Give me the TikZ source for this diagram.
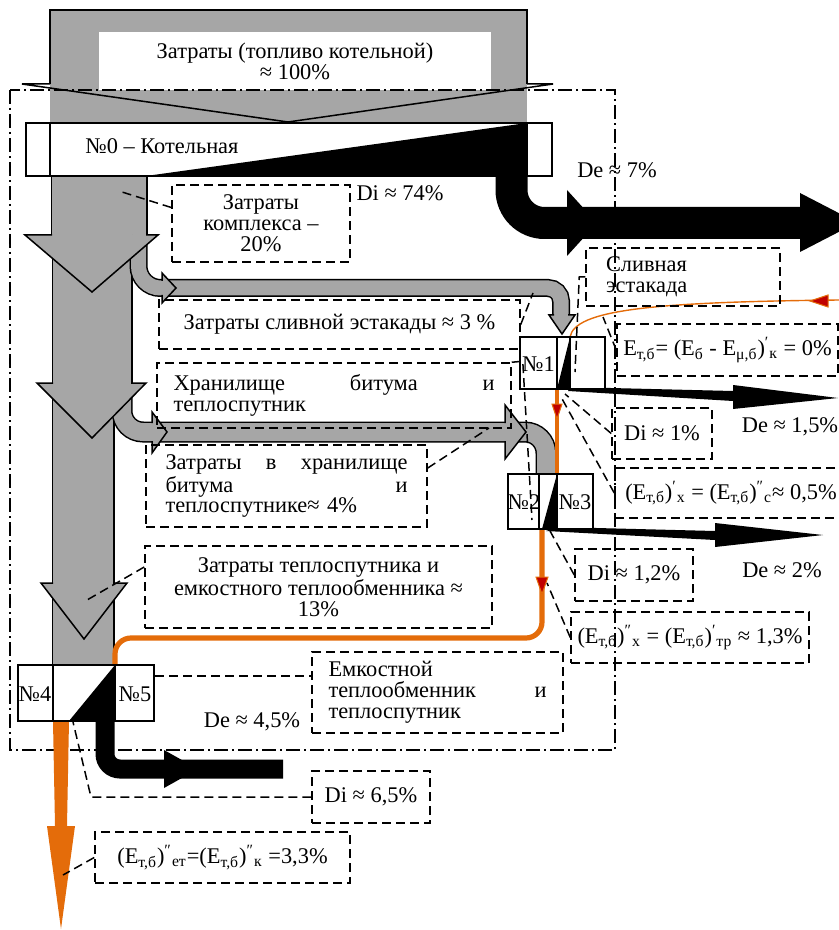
\documentclass[tikz,border=0pt]{standalone}
\usepackage{fontspec}
\setmainfont{Liberation Serif}
\definecolor{flowgray}{RGB}{166,166,166}
\definecolor{floworange}{RGB}{228,108,10}
\definecolor{flowred}{RGB}{192,0,0}
\begin{document}
\begin{tikzpicture}[x=0.5pt, y=-0.5pt,
        every node/.style={font=\fontsize{11.2}{10.4}\selectfont, inner sep=0pt},
        pipe/.style={draw=black, double=flowgray, line width=0.75pt},
        unit/.style={draw, line width=1.4pt, fill=white},
        note/.style={draw, dash pattern=on 4.5pt off 2.5pt, line width=0.75pt, align=center},
        leader/.style={dash pattern=on 4.5pt off 2.5pt, line width=0.75pt},
        frame/.style={dash pattern=on 7pt off 2pt on 1pt off 2pt, line width=0.75pt},
        hot/.style={draw=floworange},
        redhead/.style={fill=flowred, draw=floworange, line width=0.5pt}]
    \useasboundingbox (0,0) rectangle (839,930);
    % fuel input
    \fill[flowgray] (50,10) rectangle (527,123);
    \draw[line width=0.75pt] (50,84) -- (50,10) -- (527,10) -- (527,84);
    \node[fill=white, minimum width=196pt, minimum height=29pt, align=center] (fuel) at (295,61)
        {Затраты (топливо котельной)\\≈ 100\%};
    \draw[line width=0.75pt] (50,84) -- (22,84) -- (288,122) -- (553,84) -- (527,84);
    % main gray flow and branches
    \draw[pipe, double distance=47pt] (99,170) -- (99,240);
    \draw[pipe, double distance=39pt] (92,235) -- (92,390);
    \draw[pipe, double distance=30pt] (83,384) -- (83,670);
    \draw[pipe, double distance=7.5pt, rounded corners=11pt] (138.5,240) -- (138.5,288)
        [rounded corners=6.5pt] -- (561,288) -- (561,318);
    \draw[pipe, double distance=9pt, rounded corners=10.5pt] (122,395) -- (122,432) -- (546,432) -- (546,476);
    \fill[flowgray] (25,235) -- (158,235) -- (92,292) -- cycle;
    \draw[line width=0.75pt] (52,235) -- (25,235) -- (92,292) -- (158,235) -- (146,235);
    \fill[flowgray] (37,383) -- (146,383) -- (92,438) -- cycle;
    \draw[line width=0.75pt] (53,383) -- (37,383) -- (92,438) -- (146,383) -- (131,383);
    \fill[flowgray] (41,583) -- (127,583) -- (84,639) -- cycle;
    \draw[line width=0.75pt] (53,583) -- (41,583) -- (84,639) -- (127,583) -- (113,583);
    \fill[flowgray] (162,273) -- (176,288) -- (162,303) -- cycle;
    \draw[line width=0.75pt] (162,281) -- (162,273) -- (176,288) -- (162,303) -- (162,295);
    \fill[flowgray] (152,412) -- (167,432) -- (152,453) -- cycle;
    \draw[line width=0.75pt] (152,423) -- (152,412) -- (167,432) -- (152,453) -- (152,441);
    \fill[flowgray] (505,405) -- (526,432) -- (505,459) -- cycle;
    \draw[line width=0.75pt] (505,423) -- (505,405) -- (526,432) -- (505,459) -- (505,441);
    \fill[flowgray] (549,315) -- (575,315) -- (562,334) -- cycle;
    \draw[line width=0.75pt] (554,315) -- (549,315) -- (562,334) -- (575,315) -- (568,315);
    \draw[frame] (10,90) rectangle (615,750);
    % black flows
    \draw[line width=16pt, rounded corners=16.5pt] (511.5,170) -- (511.5,223) -- (801,223);
    \fill (567,190) -- (597,223) -- (567,256) -- cycle;
    \fill (800,193) -- (857,222.5) -- (800,252) -- cycle;
    \draw[line width=9.5pt, rounded corners=7.5pt] (105,718) -- (105,769) -- (283,769);
    \fill (164,750) -- (198,769) -- (164,788) -- cycle;
    \fill (570,387) -- (733,391) -- (733,385) -- (838,398) -- (733,409) -- (733,401) -- (568,391) -- cycle;
    \fill (557,527) -- (715,531) -- (715,523) -- (823,535) -- (715,547) -- (715,540) -- (546,531) -- cycle;
    % orange flows
    \fill[floworange] (53,721) -- (69,721) -- (67,826) -- (75,826) -- (61,929) -- (47,826) -- (55,826) -- cycle;
    \draw[hot, line width=0.7pt] (839,300) .. controls (650,302) and (575,310) .. (570,337);
    \filldraw[redhead] (810,301) -- (828,295) -- (828,307) -- cycle;
    \draw[hot, line width=1.7pt] (557,389) -- (557,474);
    \filldraw[redhead] (552,404) -- (562,404) -- (557,419) -- cycle;
    \draw[hot, line width=2.6pt, rounded corners=8pt] (542,529) -- (542,638) -- (115,638) -- (115,665);
    \filldraw[redhead] (536,577) -- (548,577) -- (542,594) -- cycle;
    % units
    \node[unit, minimum width=263pt, minimum height=26.5pt] (b0) at (289,149.5) {};
    \fill (527,123) -- (146,176) -- (527,176) -- cycle;
    \draw[line width=0.9pt] (50,123) -- (50,176) (527,123) -- (527,176);
    \node[anchor=west] (b0txt) at (85,146) {№0 – Котельная};
    \node[unit, minimum width=42.5pt, minimum height=26pt] (b1) at (562.5,363) {};
    \fill (570,337) -- (557,389) -- (570,389) -- cycle;
    \draw[line width=0.9pt] (557,337) -- (557,389) (570,337) -- (570,389);
    \node (b1txt) at (538.5,364) {№1};
    \node[unit, minimum width=42.5pt, minimum height=27.5pt] (b23) at (550.5,501.5) {};
    \fill (557,474) -- (542,529) -- (557,529) -- cycle;
    \draw[line width=0.9pt] (539,474) -- (539,529) (557,474) -- (557,529);
    \node (b2txt) at (524,502) {№2};
    \node (b3txt) at (575,502) {№3};
    \node[unit, minimum width=68pt, minimum height=28pt] (b45) at (86,693) {};
    \fill (115,665) -- (69,721) -- (115,721) -- cycle;
    \draw[line width=0.9pt] (53,665) -- (53,721) (115,665) -- (115,721);
    \node (b4txt) at (35,694) {№4};
    \node (b5txt) at (135,694) {№5};
    % notes
    \node[note, minimum width=89pt, minimum height=38.5pt] (zatr0) at (261,223.5) {Затраты\\комплекса –\\20\%};
    \node (di74) at (400,193) {Di ≈ 74\%};
    \node (de7) at (617,170) {De ≈ 7\%};
    \node[note, minimum width=180.5pt, minimum height=24.5pt] (zatr1) at (339.5,324.5) {Затраты сливной эстакады ≈ 3 \%};
    \node[note, minimum width=177pt, minimum height=32.5pt, text width=160.5pt, align=left] (hran) at (334,395.5)
        {Хранилище\hfill битума\hfill и\\теплоспутник};
    \node[note, minimum width=140.5pt, minimum height=41pt, text width=121pt, align=left] (zatr2) at (286.5,486)
        {Затраты\hfill в\hfill хранилище\\битума\hfill и\\теплоспутнике≈ 4\%};
    \node[note, minimum width=173.5pt, minimum height=41pt] (zatr3) at (318.5,587)
        {Затраты теплоспутника и\\емкостного теплообменника ≈\\13\%};
    \node[note, minimum width=125.5pt, minimum height=40.5pt, text width=109pt, align=left] (emk) at (437.5,692.5)
        {Емкостной\\теплообменник\hfill и\\теплоспутник};
    \node (de45) at (252,722) {De ≈ 4,5\%};
    \node[note, minimum width=59pt, minimum height=26pt] (di65) at (371,797) {Di ≈ 6,5\%};
    \node[note, minimum width=127.5pt, minimum height=25.5pt] (e33) at (222.5,857.5)
        {(E\textsubscript{т,б})\textsuperscript{″}\textsubscript{ет}=(E\textsubscript{т,б})\textsuperscript{″}\textsubscript{к} =3,3\%};
    \node[note, minimum width=97pt, minimum height=29pt, text width=77pt, align=left] (sliv) at (683,277) {Сливная\\эстакада};
    \node[note, minimum width=110.5pt, minimum height=26pt] (et0) at (727.5,350)
        {E\textsubscript{т,б}= (E\textsubscript{б} - E\textsubscript{μ,б})\textsuperscript{′}\textsubscript{к} = 0\%};
    \node[note, minimum width=50pt, minimum height=25.5pt] (di1) at (662,433.5) {Di ≈ 1\%};
    \node (de15) at (790,427) {De ≈ 1,5\%};
    \node[note, minimum width=116pt, minimum height=25pt] (e05) at (731,493)
        {(E\textsubscript{т,б})\textsuperscript{′}\textsubscript{х} = (E\textsubscript{т,б})\textsuperscript{″}\textsubscript{с}≈ 0,5\%};
    \node[note, minimum width=59pt, minimum height=26pt] (di12) at (634,575) {Di ≈ 1,2\%};
    \node (de2) at (782,570) {De ≈ 2\%};
    \node[note, minimum width=119pt, minimum height=25.5pt] (e13) at (690,637.5)
        {(E\textsubscript{т,б})\textsuperscript{″}\textsubscript{х} = (E\textsubscript{т,б})\textsuperscript{′}\textsubscript{тр} ≈ 1,3\%};
    % leaders
    \coordinate (l0) at (122,192);
    \coordinate (l1) at (533,293);
    \coordinate (l2) at (575,372);
    \coordinate (l3) at (603,317);
    \coordinate (l4) at (532,520);
    \coordinate (l5) at (565,394);
    \coordinate (l6) at (561,397);
    \coordinate (l7) at (489,428);
    \coordinate (l8) at (87,600);
    \coordinate (l9) at (73,722);
    \coordinate (l10) at (63,875);
    \coordinate (l11) at (550,531);
    \coordinate (l12) at (547,583);
    \draw[leader] (zatr0.west) ++(0,-16) -- (l0);
    \draw[leader] (zatr1.east) -- (l1);
    \draw[leader] (sliv.west) -- ++(-6,0) -- (l2);
    \draw[leader] (et0.west) -- (l3);
    \draw[leader] (hran.north east) -- ++(11,-1) -- (l4);
    \draw[leader] (di1.west) -- (l5);
    \draw[leader] (e05.west) -- (l6);
    \draw[leader] (zatr2.east) ++(0,-18) -- (l7);
    \draw[leader] (zatr3.west) ++(0,-20) -- (l8);
    \draw[leader] (b45.east) ++(0,-17) -- (emk.west |- 0,676);
    \draw[leader] (di65.west) -- (91,797) -- (l9);
    \draw[leader] (e33.west) -- (l10);
    \draw[leader] (di12.west) -- (l11);
    \draw[leader] (e13.west) -- (l12);
\end{tikzpicture}
\end{document}
